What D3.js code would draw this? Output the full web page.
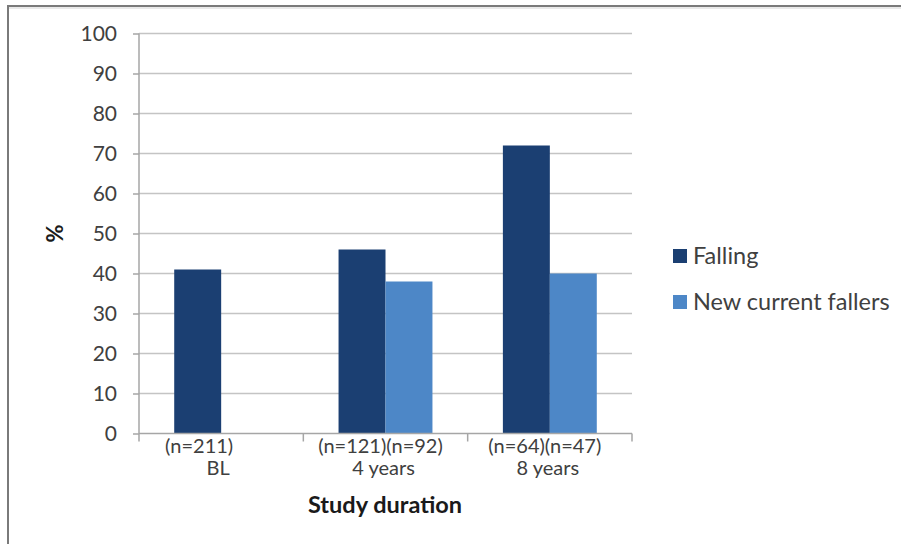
<!DOCTYPE html>
<html>
<head>
<meta charset="utf-8">
<script src="https://cdn.jsdelivr.net/npm/d3@7"></script>
<style>
  html, body { margin: 0; padding: 0; background: #fff; }
  svg { display: block; font-family: Lato, "Open Sans", sans-serif; }
</style>
</head>
<body>
<svg id="chart" width="901" height="544"></svg>
<script>
// Study periods and the sample size shown under each group
const categories = ["BL", "4 years", "8 years"];
const sampleLabels = ["(n=211)", "(n=121)(n=92)", "(n=64)(n=47)"];
const seriesNames = ["Falling", "New current fallers"];
const falling = [41, 46, 72];
const newCurrentFallers = [null, 38, 40];
const yTicks = [0, 10, 20, 30, 40, 50, 60, 70, 80, 90, 100];
const colors = ["#1b3f72", "#4d87c7"];

const svg = d3.select("#chart");
const W = 901, H = 544;
const margin = { left: 139, right: 269, top: 33.5, bottom: 110.5 };
const plotW = W - margin.left - margin.right;
const plotH = H - margin.top - margin.bottom;

// outer frame (top and left edges visible)
svg.append("rect").attr("x", 8).attr("y", 6).attr("width", W + 20).attr("height", H + 20)
  .attr("fill", "none").attr("stroke", "#7a7a7a").attr("stroke-width", 2);
svg.append("line").attr("x1", 9).attr("x2", W).attr("y1", 8).attr("y2", 8)
  .attr("stroke", "#e2e2e2").attr("stroke-width", 1.5);

const g = svg.append("g").attr("transform", `translate(${margin.left},${margin.top})`);

const x = d3.scaleBand().domain(categories).range([0, plotW]).padding(0);
const xs = d3.scaleBand().domain(seriesNames).range([0, x.bandwidth()])
  .paddingInner(0).paddingOuter(0.75);
const y = d3.scaleLinear().domain([0, 100]).range([plotH, 0]);

// horizontal gridlines
g.append("g").selectAll("line").data(yTicks.filter(d => d > 0)).join("line")
  .attr("x1", 0).attr("x2", plotW)
  .attr("y1", d => y(d)).attr("y2", d => y(d))
  .attr("stroke", "#c4c4c4").attr("stroke-width", 1.6);

// y axis
const yAxis = g.append("g").call(d3.axisLeft(y).tickValues(yTicks).tickSize(6).tickPadding(16));
yAxis.select(".domain").remove();
yAxis.selectAll(".tick line").attr("stroke", "#a6a6a6").attr("stroke-width", 1.5);
yAxis.selectAll(".tick text").attr("font-size", 21).attr("fill", "#404040")
  .attr("font-family", "Lato, sans-serif");
g.append("line").attr("x1", 0).attr("x2", 0).attr("y1", 0).attr("y2", plotH)
  .attr("stroke", "#a6a6a6").attr("stroke-width", 1.5);

// bars
const rows = categories.map((c, i) => ({ cat: c, values: [falling[i], newCurrentFallers[i]] }));
const grp = g.append("g").selectAll("g").data(rows).join("g")
  .attr("transform", d => `translate(${x(d.cat)},0)`);
grp.selectAll("rect")
  .data(d => d.values.map((v, j) => ({ v, s: seriesNames[j], j })).filter(e => e.v != null))
  .join("rect")
  .attr("x", e => xs(e.s))
  .attr("width", xs.bandwidth())
  .attr("y", e => y(e.v))
  .attr("height", e => plotH - y(e.v))
  .attr("fill", e => colors[e.j]);

// x axis line and boundary ticks
g.append("line").attr("x1", 0).attr("x2", plotW).attr("y1", plotH).attr("y2", plotH)
  .attr("stroke", "#a6a6a6").attr("stroke-width", 1.5);
const bounds = categories.map(c => x(c)).concat([plotW]);
g.append("g").selectAll("line").data(bounds).join("line")
  .attr("x1", d => d).attr("x2", d => d).attr("y1", plotH).attr("y2", plotH + 8)
  .attr("stroke", "#a6a6a6").attr("stroke-width", 1.5);

// category labels (two lines)
const lab = g.append("g").attr("font-size", 20).attr("fill", "#404040").attr("text-anchor", "middle");
lab.selectAll("text.n").data(categories).join("text").attr("class", "n")
  .attr("x", (c, i) => x(c) + x.bandwidth() / 2 - (i === 0 ? 22 : 5))
  .attr("y", plotH + 19)
  .text((c, i) => sampleLabels[i]);
lab.selectAll("text.c").data(categories).join("text").attr("class", "c")
  .attr("x", (c, i) => x(c) + x.bandwidth() / 2 - (i === 0 ? 3 : 2))
  .attr("y", plotH + 41)
  .text(c => c);

// axis titles
g.append("text").attr("x", plotW / 2 - 0.5).attr("y", plotH + 79)
  .attr("text-anchor", "middle").attr("font-size", 23.5).attr("font-weight", "bold")
  .attr("fill", "#1a1a1a").text("Study duration");
g.append("text").attr("transform", `translate(${-76},${plotH / 2}) rotate(-90)`)
  .attr("text-anchor", "middle").attr("font-size", 22).attr("font-weight", "bold")
  .attr("fill", "#1a1a1a").text("%");

// legend
const leg = svg.append("g").attr("transform", "translate(673,248)");
const li = leg.selectAll("g").data(seriesNames).join("g")
  .attr("transform", (d, i) => `translate(0,${i * 46})`);
li.append("rect").attr("width", 14).attr("height", 14).attr("y", 1)
  .attr("fill", (d, i) => colors[i]);
li.append("text").attr("x", 20).attr("y", 15.5).attr("font-size", 23.5)
  .attr("fill", "#404040").text(d => d);
</script>
</body>
</html>
